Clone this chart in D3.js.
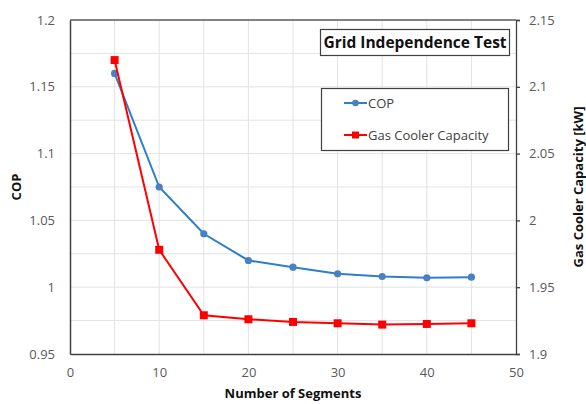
<!DOCTYPE html>
<html>
<head>
<meta charset="utf-8">
<script src="https://cdn.jsdelivr.net/npm/d3@7"></script>
<style>
  body { margin: 0; background: #fff; }
  text { font-family: "Open Sans", "Liberation Sans", sans-serif; }
</style>
</head>
<body>
<div id="chart"></div>
<script>
// data
const segments = [5, 10, 15, 20, 25, 30, 35, 40, 45];
const cop = [1.16, 1.075, 1.04, 1.02, 1.015, 1.01, 1.008, 1.007, 1.0075];
const capacity = [2.12, 1.978, 1.929, 1.926, 1.924, 1.923, 1.922, 1.9225, 1.923];
const xTicks = [0, 10, 20, 30, 40, 50];
const copTicks = [0.95, 1, 1.05, 1.1, 1.15, 1.2];
const capTicks = [1.9, 1.95, 2, 2.05, 2.1, 2.15];

const W = 586, H = 404;
const margin = { top: 20, right: 70, bottom: 50, left: 70 },
  width = W - margin.left - margin.right,
  height = H - margin.top - margin.bottom;

const svg = d3.select("#chart").append("svg")
  .attr("width", W).attr("height", H);
const g = svg.append("g").attr("transform", `translate(${margin.left},${margin.top})`);

const x = d3.scaleLinear().domain([0, 50]).range([0, width]);
const yL = d3.scaleLinear().domain([0.95, 1.2]).range([height, 0]);
const yR = d3.scaleLinear().domain([1.9, 2.15]).range([height, 0]);

// gridlines (major + minor)
const gridX = d3.range(5, 50, 5);
const gridY = d3.range(0.975, 1.2, 0.025);
g.append("g").selectAll("line").data(gridX).join("line")
  .attr("x1", d => x(d)).attr("x2", d => x(d))
  .attr("y1", 0).attr("y2", height)
  .attr("stroke", "#e3e3e3").attr("stroke-width", 1);
g.append("g").selectAll("line").data(gridY).join("line")
  .attr("x1", 0).attr("x2", width)
  .attr("y1", d => yL(d)).attr("y2", d => yL(d))
  .attr("stroke", "#e3e3e3").attr("stroke-width", 1);

// frame: top border
g.append("line").attr("x1", 0).attr("x2", width).attr("y1", 0).attr("y2", 0)
  .attr("stroke", "#595959").attr("stroke-width", 1.3);

const tickFont = sel => sel.selectAll("text")
  .attr("font-size", 13).attr("fill", "#595959");

// X axis
g.append("g").attr("transform", `translate(0,${height})`)
  .call(d3.axisBottom(x).tickValues(xTicks).tickSize(0).tickPadding(14).tickFormat(d3.format("d")))
  .call(a => a.select(".domain").attr("stroke", "#404040").attr("stroke-width", 1.5))
  .call(tickFont);

// left axis
g.append("g")
  .call(d3.axisLeft(yL).tickValues(copTicks).tickSize(0).tickPadding(15).tickFormat(d => d3.format("")(+d.toFixed(2))))
  .call(a => a.select(".domain").attr("stroke", "#404040").attr("stroke-width", 1.5))
  .call(tickFont);

// right axis
g.append("g").attr("transform", `translate(${width},0)`)
  .call(d3.axisRight(yR).tickValues(capTicks).tickSize(4).tickSizeOuter(4).tickPadding(9).tickFormat(d => d3.format("")(+d.toFixed(2))))
  .call(a => a.selectAll(".domain, .tick line").attr("stroke", "#404040").attr("stroke-width", 1.3))
  .call(tickFont);

// series
const lineL = d3.line().x((d, i) => x(segments[i])).y(d => yL(d));
const lineR = d3.line().x((d, i) => x(segments[i])).y(d => yR(d));

g.append("path").datum(cop).attr("d", lineL)
  .attr("fill", "none").attr("stroke", "#2e7fc9").attr("stroke-width", 2);
g.append("g").selectAll("circle").data(cop).join("circle")
  .attr("cx", (d, i) => x(segments[i])).attr("cy", d => yL(d))
  .attr("r", 3.6).attr("fill", "#4a7fc1");

g.append("path").datum(capacity).attr("d", lineR)
  .attr("fill", "none").attr("stroke", "#ff0000").attr("stroke-width", 2);
g.append("g").selectAll("rect").data(capacity).join("rect")
  .attr("x", (d, i) => x(segments[i]) - 4).attr("y", d => yR(d) - 4)
  .attr("width", 8).attr("height", 8).attr("fill", "#ff0000");

// title box
svg.append("rect").attr("x", 320.5).attr("y", 29.5).attr("width", 189).attr("height", 26)
  .attr("fill", "#fff").attr("stroke", "#404040").attr("stroke-width", 1.2);
svg.append("text").attr("x", 415).attr("y", 48).attr("text-anchor", "middle")
  .attr("font-size", 15.5).attr("font-weight", "bold").attr("fill", "#111")
  .text("Grid Independence Test");

// legend
svg.append("rect").attr("x", 321.5).attr("y", 88.5).attr("width", 187).attr("height", 62)
  .attr("fill", "#fff").attr("stroke", "#404040").attr("stroke-width", 1.2);
const legend = [
  { name: "COP", color: "#2e7fc9", marker: "circle", y: 103 },
  { name: "Gas Cooler Capacity", color: "#ff0000", marker: "rect", y: 135 }
];
const lg = svg.append("g").selectAll("g").data(legend).join("g")
  .attr("transform", d => `translate(344,${d.y})`);
lg.append("line").attr("x1", 0).attr("x2", 23)
  .attr("stroke", d => d.color).attr("stroke-width", 2);
lg.filter(d => d.marker === "circle").append("circle")
  .attr("cx", 11.5).attr("r", 3.3).attr("fill", "#4a7fc1");
lg.filter(d => d.marker === "rect").append("rect")
  .attr("x", 8).attr("y", -3.5).attr("width", 7).attr("height", 7).attr("fill", "#ff0000");
lg.append("text").attr("x", 24).attr("dy", "0.35em")
  .attr("font-size", 13).attr("fill", "#404040").text(d => d.name);

// axis titles
svg.append("text").attr("x", margin.left + width / 2).attr("y", 398)
  .attr("text-anchor", "middle").attr("font-size", 13).attr("font-weight", "bold").attr("fill", "#111")
  .text("Number of Segments");
svg.append("text").attr("transform", `translate(21,${margin.top + height / 2}) rotate(-90)`)
  .attr("text-anchor", "middle").attr("font-size", 13).attr("font-weight", "bold").attr("fill", "#111")
  .text("COP");
svg.append("text").attr("transform", `translate(583,${margin.top + height / 2}) rotate(-90)`)
  .attr("text-anchor", "middle").attr("font-size", 13).attr("font-weight", "bold").attr("fill", "#111")
  .text("Gas Cooler Capacity [kW]");
</script>
</body>
</html>
